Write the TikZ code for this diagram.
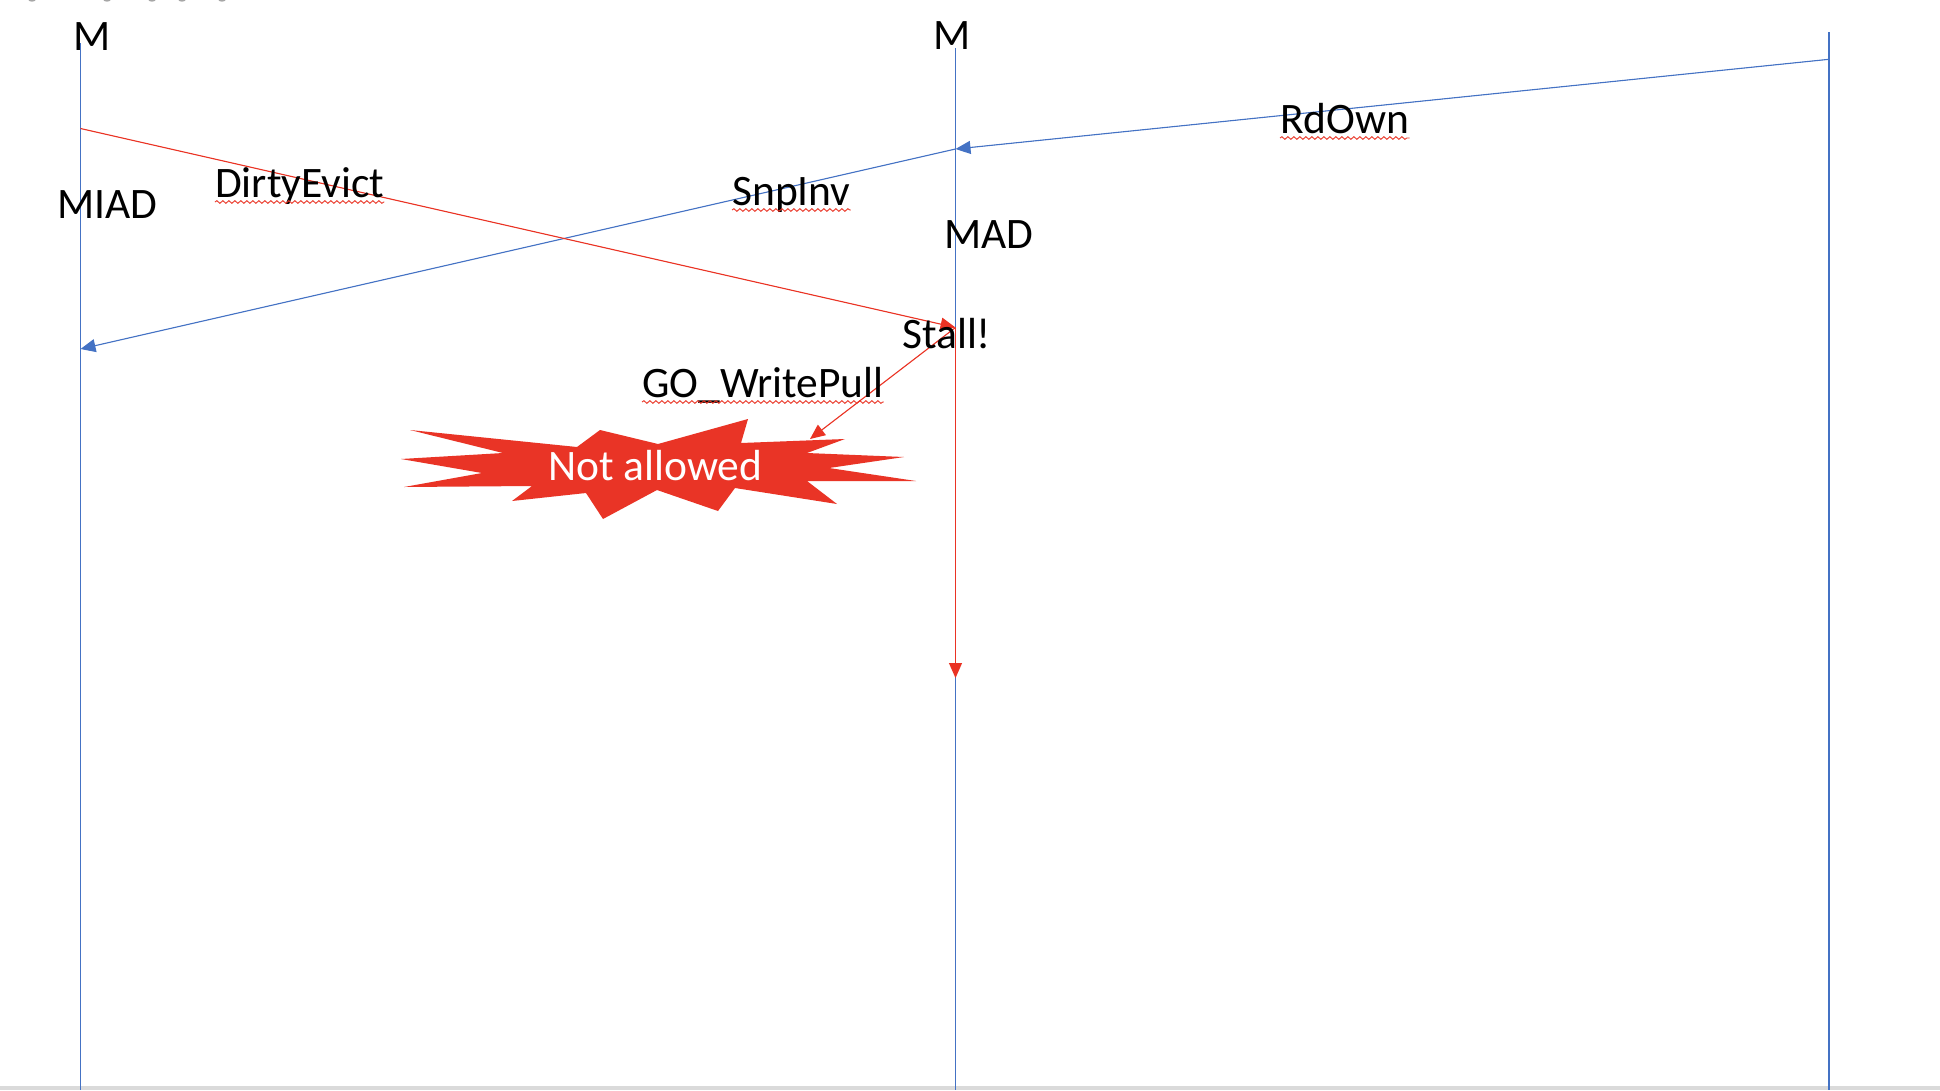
\documentclass[tikz,border=0pt]{standalone}
\usepackage{fontspec}
\setmainfont{Carlito}
\usetikzlibrary{arrows.meta,decorations.pathmorphing}
\definecolor{lblue}{RGB}{68,114,196}
\definecolor{lred}{RGB}{234,51,36}
\definecolor{burst}{RGB}{233,52,38}
\definecolor{barg}{RGB}{218,218,218}
\tikzset{
  lifeline/.style={draw=lblue,line width=1.1pt},
  msgblue/.style={draw=lblue,line width=1.1pt,-{Triangle[length=15pt,width=13pt]},fill=lblue},
  msgred/.style={draw=lred,line width=1.1pt,-{Triangle[length=15pt,width=13pt]},fill=lred},
  lbl/.style={font=\fontsize{43.5}{50}\selectfont,inner sep=0pt,anchor=base west,text=black},
  squig/.style={draw=lred,line width=0.9pt,decorate,decoration={snake,segment length=6pt,amplitude=1.3pt}},
}
\begin{document}
\begin{tikzpicture}[x=1pt,y=-1pt]
\useasboundingbox (0,0) rectangle (1940,1090);
\fill[white] (0,0) rectangle (1940,1090);
\fill[barg] (0,1086) rectangle (1940,1090);
% fragments of text cut at the top edge
\foreach \xx in {32,107,152,182,222}
  \fill[gray!70] (\xx,0) ellipse (3.5pt and 1.6pt);
% lifelines
\coordinate (Ltop) at (80.5,43);
\coordinate (Lbot) at (80.5,1090);
\coordinate (Mtop) at (955.5,48);
\coordinate (Mbot) at (955.5,1090);
\coordinate (Rtop) at (1829,32);
\coordinate (Rbot) at (1829,1090);
\draw[lifeline] (Ltop) -- (Lbot);
\draw[lifeline] (Mtop) -- (Mbot);
\draw[lifeline] (Rtop) -- (Rbot);
% message points
\coordinate (rdA) at (1829,59.3);
\coordinate (rdB) at (955.5,149);
\coordinate (snB) at (80.5,349);
\coordinate (deA) at (80.5,128.5);
\coordinate (stall) at (955.5,327.5);
\coordinate (goB) at (810,439);
\coordinate (vEnd) at (955.5,678);
% starburst
\fill[burst] (410,430) -- (577,447) -- (600,430) -- (658,444) -- (748,419) -- (741,443)
  -- (845,439) -- (807,453) -- (904,457) -- (829,468) -- (916,481) -- (807,481)
  -- (837,504) -- (735,488) -- (718,511) -- (657,490) -- (603,519) -- (586,493)
  -- (512,501) -- (532,486) -- (404,487) -- (482,473) -- (401,459) -- (503,453) -- cycle;
\node[lbl,text=white] (na) at (548,480) {Not allowed};
% messages
\draw[msgblue] (rdA) -- (rdB);
\draw[msgblue] (rdB) -- (snB);
\draw[msgred] (deA) -- (stall);
\draw[msgred] (stall) -- (goB);
\draw[msgred] (stall) -- (vEnd);
% labels
\node[lbl] (m1) at (73,50) {M};
\node[lbl] (m2) at (933,49) {M};
\node[lbl] (miad) at (57,218) {MIAD};
\node[lbl] (de) at (215,197) {DirtyEvict};
\node[lbl] (rd) at (1280,133) {RdOwn};
\node[lbl] (sn) at (732,205) {SnpInv};
\node[lbl] (mad) at (944,248) {MAD};
\node[lbl] (st) at (902,348) {Stall!};
\node[lbl] (go) at (642,397) {GO\_WritePull};
% spell-check squiggles
\draw[squig] ([yshift=-5pt]de.base west) -- ([yshift=-5pt]de.base east);
\draw[squig] ([yshift=-5pt]sn.base west) -- ([yshift=-5pt]sn.base east);
\draw[squig] ([yshift=-5pt]rd.base west) -- ([yshift=-5pt]rd.base east);
\draw[squig] ([yshift=-5pt]go.base west) -- ([yshift=-5pt]go.base east);
\end{tikzpicture}
\end{document}
